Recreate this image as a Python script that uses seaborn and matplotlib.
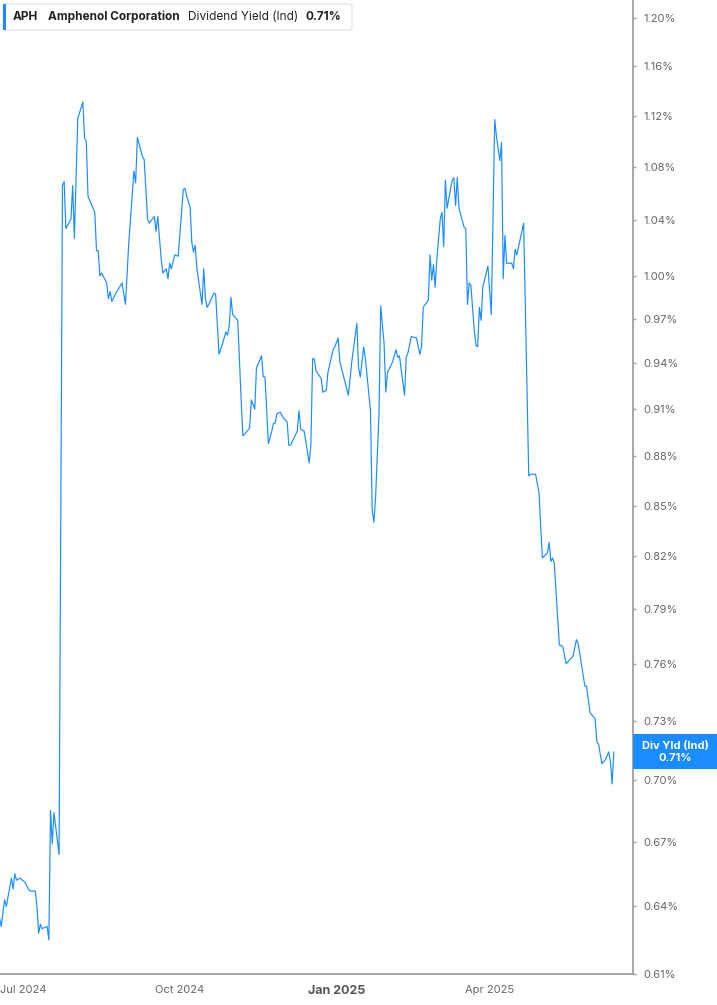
"""APH dividend yield (indicated) over the past year, log-scaled right axis."""
import matplotlib
matplotlib.use("Agg")
import matplotlib.pyplot as plt
import matplotlib.dates as mdates
from matplotlib.patches import FancyBboxPatch, Rectangle
from matplotlib.ticker import FixedLocator, NullLocator
from matplotlib.transforms import IdentityTransform
import pandas as pd
import seaborn as sns

DATES = [
    "2024-06-17", "2024-06-18", "2024-06-20", "2024-06-21", "2024-06-24", "2024-06-25", "2024-06-26",
    "2024-06-27", "2024-06-29", "2024-07-02", "2024-07-04", "2024-07-05", "2024-07-08", "2024-07-09",
    "2024-07-10", "2024-07-11", "2024-07-12", "2024-07-15", "2024-07-16", "2024-07-17", "2024-07-18",
    "2024-07-19", "2024-07-22", "2024-07-24", "2024-07-25", "2024-07-26", "2024-07-29", "2024-07-30",
    "2024-07-31", "2024-08-02", "2024-08-05", "2024-08-06", "2024-08-07", "2024-08-08", "2024-08-12",
    "2024-08-13", "2024-08-14", "2024-08-15", "2024-08-16", "2024-08-19", "2024-08-20", "2024-08-21",
    "2024-08-22", "2024-08-24", "2024-08-28", "2024-08-30", "2024-09-01", "2024-09-04", "2024-09-05",
    "2024-09-06", "2024-09-09", "2024-09-10", "2024-09-12", "2024-09-13", "2024-09-16", "2024-09-17",
    "2024-09-18", "2024-09-20", "2024-09-21", "2024-09-23", "2024-09-24", "2024-09-25", "2024-09-26",
    "2024-09-28", "2024-09-30", "2024-10-03", "2024-10-04", "2024-10-05", "2024-10-07", "2024-10-08",
    "2024-10-09", "2024-10-10", "2024-10-11", "2024-10-14", "2024-10-15", "2024-10-16", "2024-10-17",
    "2024-10-18", "2024-10-21", "2024-10-22", "2024-10-24", "2024-10-26", "2024-10-28", "2024-10-29",
    "2024-10-30", "2024-10-31", "2024-11-01", "2024-11-04", "2024-11-06", "2024-11-07", "2024-11-08",
    "2024-11-11", "2024-11-12", "2024-11-14", "2024-11-15", "2024-11-18", "2024-11-19", "2024-11-20",
    "2024-11-22", "2024-11-24", "2024-11-25", "2024-11-26", "2024-11-27", "2024-11-29", "2024-12-01",
    "2024-12-03", "2024-12-04", "2024-12-05", "2024-12-09", "2024-12-10", "2024-12-11", "2024-12-13",
    "2024-12-16", "2024-12-17", "2024-12-18", "2024-12-19", "2024-12-20", "2024-12-23", "2024-12-24",
    "2024-12-26", "2024-12-27", "2024-12-30", "2024-12-31", "2025-01-02", "2025-01-03", "2025-01-08",
    "2025-01-10", "2025-01-13", "2025-01-14", "2025-01-15", "2025-01-17", "2025-01-18", "2025-01-21",
    "2025-01-22", "2025-01-23", "2025-01-24", "2025-01-26", "2025-01-27", "2025-01-29", "2025-01-30",
    "2025-01-31", "2025-02-03", "2025-02-05", "2025-02-06", "2025-02-07", "2025-02-10", "2025-02-11",
    "2025-02-12", "2025-02-14", "2025-02-17", "2025-02-19", "2025-02-20", "2025-02-21", "2025-02-24",
    "2025-02-25", "2025-02-26", "2025-02-27", "2025-02-28", "2025-03-01", "2025-03-03", "2025-03-04",
    "2025-03-05", "2025-03-06", "2025-03-07", "2025-03-09", "2025-03-10", "2025-03-11", "2025-03-12",
    "2025-03-13", "2025-03-14", "2025-03-17", "2025-03-18", "2025-03-19", "2025-03-20", "2025-03-21",
    "2025-03-23", "2025-03-24", "2025-03-25", "2025-03-26", "2025-03-27", "2025-03-28", "2025-03-31",
    "2025-04-02", "2025-04-04", "2025-04-05", "2025-04-07", "2025-04-08", "2025-04-09", "2025-04-10",
    "2025-04-11", "2025-04-14", "2025-04-15", "2025-04-16", "2025-04-17", "2025-04-21", "2025-04-24",
    "2025-04-25", "2025-04-28", "2025-04-30", "2025-05-02", "2025-05-05", "2025-05-06", "2025-05-07",
    "2025-05-08", "2025-05-09", "2025-05-12", "2025-05-13", "2025-05-14", "2025-05-16", "2025-05-20",
    "2025-05-22", "2025-05-23", "2025-05-27", "2025-05-28", "2025-05-30", "2025-06-02", "2025-06-03",
    "2025-06-04", "2025-06-06", "2025-06-08", "2025-06-10", "2025-06-11", "2025-06-12", "2025-06-13",
]

# dividend yield, in percent
YIELD_PCT = [
    0.635, 0.631, 0.643, 0.640, 0.653, 0.648, 0.655, 0.652, 0.653, 0.651, 0.648, 0.647, 0.647, 0.640,
    0.628, 0.632, 0.630, 0.631, 0.625, 0.685, 0.669, 0.684, 0.664, 1.066, 1.069, 1.034, 1.041, 1.066,
    1.027, 1.118, 1.131, 1.102, 1.100, 1.058, 1.046, 1.018, 1.018, 1.000, 1.002, 0.995, 0.984, 0.989,
    0.982, 0.987, 0.995, 0.980, 1.024, 1.077, 1.068, 1.103, 1.088, 1.086, 1.041, 1.038, 1.043, 1.032,
    1.043, 1.012, 1.002, 1.005, 0.998, 1.009, 1.005, 1.015, 1.014, 1.063, 1.064, 1.058, 1.050, 1.024,
    1.017, 1.022, 1.005, 0.980, 1.005, 0.984, 0.978, 0.980, 0.988, 0.987, 0.946, 0.953, 0.961, 0.959,
    0.965, 0.985, 0.973, 0.969, 0.916, 0.893, 0.894, 0.898, 0.916, 0.910, 0.937, 0.945, 0.931, 0.931,
    0.888, 0.896, 0.901, 0.901, 0.907, 0.908, 0.904, 0.902, 0.887, 0.887, 0.896, 0.909, 0.897, 0.896,
    0.876, 0.888, 0.943, 0.943, 0.935, 0.930, 0.921, 0.922, 0.934, 0.949, 0.951, 0.957, 0.941, 0.919,
    0.941, 0.967, 0.937, 0.931, 0.951, 0.943, 0.909, 0.847, 0.840, 0.855, 0.907, 0.979, 0.953, 0.921,
    0.934, 0.941, 0.949, 0.944, 0.945, 0.919, 0.944, 0.947, 0.958, 0.957, 0.946, 0.951, 0.978, 0.983,
    1.015, 0.997, 1.008, 0.992, 1.012, 1.041, 1.046, 1.021, 1.070, 1.049, 1.063, 1.070, 1.072, 1.051,
    1.072, 1.049, 1.035, 1.034, 0.980, 0.995, 0.993, 0.962, 0.952, 0.951, 0.978, 0.969, 0.992, 1.007,
    0.973, 1.117, 1.104, 1.085, 1.099, 0.998, 1.029, 1.009, 1.009, 1.005, 1.019, 1.015, 1.038, 0.868,
    0.869, 0.869, 0.858, 0.819, 0.822, 0.828, 0.817, 0.819, 0.816, 0.770, 0.770, 0.769, 0.760, 0.764,
    0.773, 0.771, 0.748, 0.748, 0.734, 0.731, 0.719, 0.718, 0.708, 0.710, 0.714, 0.709, 0.698, 0.714,
]

Y_TICKS = [0.61, 0.64, 0.67, 0.70, 0.73, 0.76, 0.79, 0.82, 0.85, 0.88, 0.91, 0.94, 0.97,
           1.00, 1.04, 1.08, 1.12, 1.16, 1.20]
X_TICKS = ["2024-07-01", "2024-10-01", "2025-01-01", "2025-04-01"]
X_LABELS = ["Jul 2024", "Oct 2024", "Jan 2025", "Apr 2025"]

BLUE = "#1a8cff"
GREY = "#666666"
AXIS_GREY = "#a0a0a0"

sns.set_style("white")
plt.rcParams["font.family"] = ["Inter", "DejaVu Sans"]

df = pd.DataFrame({"date": pd.to_datetime(DATES), "yield": YIELD_PCT})

W, H = 717, 1005
fig = plt.figure(figsize=(W / 100, H / 100), dpi=100)
ax = fig.add_axes([0, 1 - 974.3 / H, 632.7 / W, 974.3 / H])

sns.lineplot(data=df, x="date", y="yield", ax=ax, color=BLUE, linewidth=0.85)

ax.set_yscale("log")
ax.set_ylim(0.61, 1.2156)
ax.set_xlim(pd.Timestamp("2024-06-17 07:00"), pd.Timestamp("2025-06-24 02:00"))

ax.yaxis.tick_right()
ax.yaxis.set_major_locator(FixedLocator(Y_TICKS))
ax.yaxis.set_minor_locator(NullLocator())
ax.set_yticklabels([f"{v:.2f}%" for v in Y_TICKS])
ax.tick_params(axis="y", which="major", length=2, width=1, color=AXIS_GREY, pad=6,
               labelsize=8, labelcolor=GREY, left=False, right=True)

ax.set_xticks(pd.to_datetime(X_TICKS))
ax.set_xticklabels(X_LABELS)
ax.xaxis.set_minor_locator(NullLocator())
ax.tick_params(axis="x", length=4, width=1, color=AXIS_GREY, pad=4, labelsize=8, labelcolor=GREY)
for lbl in ax.get_xticklabels():
    if lbl.get_text().startswith("Jan"):
        lbl.set_fontweight("bold")
        lbl.set_fontsize(9)
        lbl.set_color("#555555")

ax.set_xlabel("")
ax.set_ylabel("")
for side in ("left", "top"):
    ax.spines[side].set_visible(False)
for side in ("right", "bottom"):
    ax.spines[side].set_visible(True)
    ax.spines[side].set_color(AXIS_GREY)
    ax.spines[side].set_linewidth(1.3)
ax.grid(False)

# header box
px = IdentityTransform()
fig.add_artist(FancyBboxPatch((3, H - 30), 349, 26, boxstyle="round,pad=0,rounding_size=3",
                              transform=px, facecolor="white", edgecolor="#e4e4e4", linewidth=1))
fig.add_artist(Rectangle((3, H - 30), 3, 26, transform=px, facecolor=BLUE, edgecolor="none"))
header_y = 1 - 17 / H
fig.text(13 / W, header_y, "APH", fontsize=8.5, fontweight="bold", color="#222222", va="center")
fig.text(48 / W, header_y, "Amphenol Corporation", fontsize=8.5, fontweight="bold", color="#222222", va="center")
fig.text(188 / W, header_y, "Dividend Yield (Ind)", fontsize=8.5, color="#222222", va="center")
fig.text(305 / W, header_y, "0.71%", fontsize=8.5, fontweight="bold", color="#222222", va="center")

# last value tag on the right axis
last = df.iloc[-1]
y_last = ax.transData.transform((mdates.date2num(last["date"]), last["yield"]))[1]
fig.add_artist(Rectangle((632.7, y_last - 17.5), W - 632.7, 35, transform=px,
                         facecolor=BLUE, edgecolor="none"))
fig.text(675 / W, (y_last + 6) / H, "Div Yld (Ind)", fontsize=8, fontweight="bold",
         color="white", ha="center", va="center")
fig.text(675 / W, (y_last - 6) / H, f"{last['yield']:.2f}%", fontsize=8, fontweight="bold",
         color="white", ha="center", va="center")

fig.savefig("out.png", dpi=100)
